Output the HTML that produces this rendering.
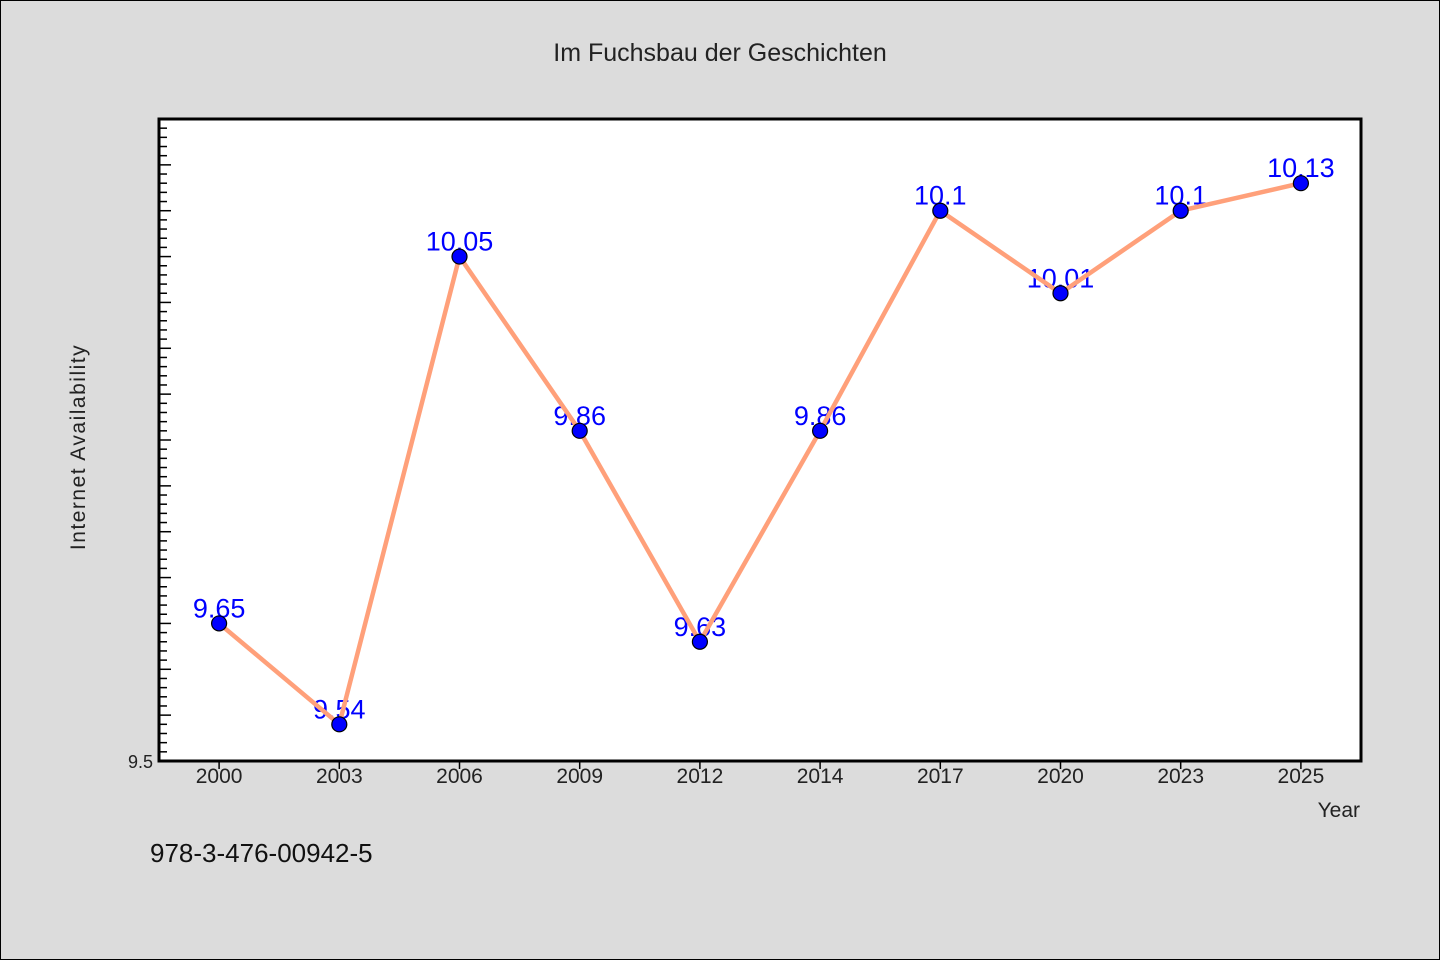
<!DOCTYPE html>
<html><head><meta charset="utf-8"><style>
body{margin:0;background:#dcdcdc;}
svg{display:block;font-family:"WenQuanYi Zen Hei","Liberation Sans",sans-serif;}
</style></head><body>
<svg id="c" width="1440" height="960">
<rect x="0.5" y="0.5" width="1439" height="959" fill="#dcdcdc" stroke="#000"/>
<text x="720" y="61" text-anchor="middle" font-size="25" fill="#222">Im Fuchsbau der Geschichten</text>
<rect x="159" y="119" width="1202" height="642" fill="#fff"/>
<g id="ticks"></g>
<g id="labels"></g>
<g id="series"></g>
<rect x="159" y="119" width="1202" height="642" fill="none" stroke="#000" stroke-width="3"/>
<text x="1360" y="817" text-anchor="end" font-size="21" fill="#222">Year</text>
<text transform="translate(85,447) rotate(-90)" text-anchor="middle" font-size="21" fill="#222" letter-spacing="1.5">Internet Availability</text>
<text x="150" y="862" font-size="26" fill="#111">978-3-476-00942-5</text>
</svg>
<script>
const categories=["2000","2003","2006","2009","2012","2014","2017","2020","2023","2025"];
const values=[9.65,9.54,10.05,9.86,9.63,9.86,10.1,10.01,10.1,10.13];
const valueLabels=["9.65","9.54","10.05","9.86","9.63","9.86","10.1","10.01","10.1","10.13"];
const yMin=9.5, yMax=10.2;
const NS="http://www.w3.org/2000/svg";
const L=159,R=1361,T=119,B=761;
const band=(R-L)/categories.length;
const xs=i=>L+band*(i+0.5);
const ys=v=>B-(v-yMin)/(yMax-yMin)*(B-T);
function mk(p,tag,a){const e=document.createElementNS(NS,tag);for(const k in a)e.setAttribute(k,a[k]);p.appendChild(e);return e;}
const tk=document.getElementById('ticks');
for(let k=0;k<=70;k++){const v=yMin+k*0.01;const y=ys(v);const major=k%5===0;
 const t=mk(tk,'line',{x1:L,x2:L+(major?12:8),y1:y,y2:y,stroke:'#000','stroke-width':1.5});
 }
const yl=mk(tk,'text',{x:153,y:B+7,'text-anchor':'end','font-size':18,fill:'#222'});yl.textContent='9.5';

categories.forEach((c,i)=>{const x=xs(i);
 const t=mk(tk,'line',{x1:x,x2:x,y1:B,y2:B+8,stroke:'#000','stroke-width':1.5});
 
 const l=mk(tk,'text',{x:x,y:B+22,'text-anchor':'middle','font-size':21,fill:'#222'});l.textContent=c;
 });
const lg=document.getElementById('labels');
values.forEach((v,i)=>{const l=mk(lg,'text',{x:xs(i),y:ys(v)-6,'text-anchor':'middle','font-size':27,fill:'#0000ff'});l.textContent=valueLabels[i];
 });
const sg=document.getElementById('series');
const pl=mk(sg,'polyline',{points:values.map((v,i)=>xs(i)+','+ys(v)).join(' '),fill:'none',stroke:'#ffa07a','stroke-width':4.5,'stroke-linejoin':'round'});

values.forEach((v,i)=>{const m=mk(sg,'circle',{cx:xs(i),cy:ys(v),r:7.5,fill:'#0000ff',stroke:'#000','stroke-width':1.2});
 });
</script>
</body></html>
